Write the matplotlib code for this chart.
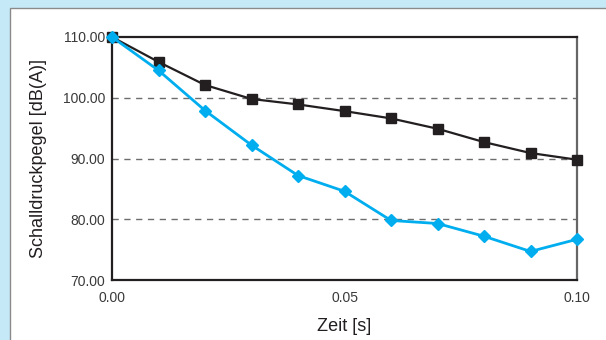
import matplotlib.pyplot as plt
from matplotlib.patches import Rectangle

# Zeit [s]
zeit = [0.00, 0.01, 0.02, 0.03, 0.04, 0.05, 0.06, 0.07, 0.08, 0.09, 0.10]
# Schalldruckpegel [dB(A)]
pegel_schwarz = [110.0, 105.9, 102.1, 99.8, 98.9, 97.8, 96.6, 94.9, 92.7, 90.9, 89.8]
pegel_blau = [110.0, 104.5, 97.9, 92.2, 87.2, 84.6, 79.8, 79.3, 77.2, 74.7, 76.7]

y_ticks = [70, 80, 90, 100, 110]
x_ticks = [0.00, 0.05, 0.10]

plt.rcParams['font.family'] = ['Liberation Sans', 'DejaVu Sans']

fig = plt.figure(figsize=(6.06, 3.40), dpi=100)
fig.patch.set_facecolor('#c6e9f8')
# white panel with grey border, behind the axes
panel = Rectangle((10 / 606, -0.01), 1.0, 1 - 8 / 340 + 0.01, transform=fig.transFigure,
                  facecolor='white', edgecolor='#8a8a8a', linewidth=1.0, zorder=-5)
fig.patches.append(panel)

ax = fig.add_axes([112 / 606, 1 - 280 / 340, 465 / 606, 243 / 340])
ax.set_facecolor('white')

for yv in [80, 90, 100]:
    ax.axhline(yv, color='#6d6d6d', linestyle=(0, (4.5, 4)), linewidth=1.0, zorder=1)

ax.plot(zeit, pegel_schwarz, color='#231f20', linewidth=1.6, marker='s',
        markersize=6.5, zorder=3, clip_on=False)
ax.plot(zeit, pegel_blau, color='#00aeef', linewidth=2.0, marker='D',
        markersize=6.5, zorder=4, clip_on=False)

ax.set_xlim(0, 0.10)
ax.set_ylim(70, 110)
ax.set_xticks(x_ticks)
ax.set_xticklabels(['%.2f' % v for v in x_ticks])
ax.set_yticks(y_ticks)
ax.set_yticklabels(['%.2f' % v for v in y_ticks])
ax.tick_params(length=0, labelsize=10, colors='#3a3a3a', pad=5)
ax.tick_params(axis='x', pad=8)

for side in ['left', 'bottom', 'top']:
    ax.spines[side].set_color('#231f20')
    ax.spines[side].set_linewidth(1.6)
ax.spines['right'].set_color('#666666')
ax.spines['right'].set_linewidth(1.6)

ax.set_xlabel('Zeit [s]', fontsize=13, color='#231f20', labelpad=9)
ax.set_ylabel('Schalldruckpegel [dB(A)]', fontsize=13, color='#231f20', labelpad=11)

fig.savefig('out.png', dpi=100, facecolor=fig.get_facecolor())
